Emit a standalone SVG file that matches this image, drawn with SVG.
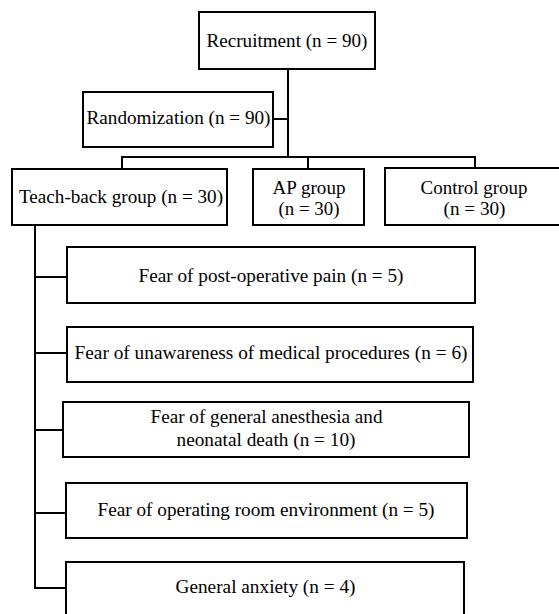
<svg xmlns="http://www.w3.org/2000/svg" width="559" height="614" viewBox="0 0 559 614">
<style>
rect{fill:#fff;stroke:#000;stroke-width:2}
.c line,.c path{stroke:#000;stroke-width:2;fill:none}
text{font-family:"Liberation Serif","Times New Roman",Tinos,"Noto Serif","DejaVu Serif",FreeSerif,serif;font-size:18px;fill:#000;text-anchor:middle}
</style>
<rect x="0" y="0" width="559" height="614" style="stroke:none"/>
<g class="c">
<line x1="288" y1="69" x2="288" y2="157"/>
<line x1="273" y1="119" x2="288" y2="119"/>
<path d="M122 169V157H475V168"/>
<line x1="308" y1="157" x2="308" y2="169"/>
<path d="M35 225V588H66"/>
<line x1="35" y1="277" x2="67" y2="277"/>
<line x1="35" y1="353" x2="67" y2="353"/>
<line x1="35" y1="430" x2="63" y2="430"/>
<line x1="35" y1="513" x2="66" y2="513"/>
</g>
<g id="recruitment"><rect x="199" y="12" width="176" height="57"/><text x="287" y="47" textLength="161" lengthAdjust="spacingAndGlyphs">Recruitment (n = 90)</text></g>
<g id="randomization"><rect x="83" y="92" width="190" height="55"/><text x="178.5" y="124" textLength="184" lengthAdjust="spacingAndGlyphs">Randomization (n = 90)</text></g>
<g id="teachback"><rect x="12" y="169" width="215" height="56"/><text x="121" y="203" textLength="204" lengthAdjust="spacingAndGlyphs">Teach-back group (n = 30)</text></g>
<g id="ap"><rect x="253" y="169" width="111" height="56"/><text x="309" y="194" textLength="73" lengthAdjust="spacingAndGlyphs">AP group</text><text x="309" y="215" textLength="61" lengthAdjust="spacingAndGlyphs">(n = 30)</text></g>
<g id="control"><rect x="385" y="168" width="182" height="57"/><text x="474" y="194" textLength="107" lengthAdjust="spacingAndGlyphs">Control group</text><text x="474.5" y="215" textLength="62" lengthAdjust="spacingAndGlyphs">(n = 30)</text></g>
<g id="postop"><rect x="67" y="247" width="408" height="56"/><text x="271" y="282" textLength="265" lengthAdjust="spacingAndGlyphs">Fear of post-operative pain (n = 5)</text></g>
<g id="unaware"><rect x="67" y="327" width="406" height="55"/><text x="271" y="359" textLength="393" lengthAdjust="spacingAndGlyphs">Fear of unawareness of medical procedures (n = 6)</text></g>
<g id="anesthesia"><rect x="63" y="402" width="406" height="55"/><text x="266.5" y="423" textLength="232" lengthAdjust="spacingAndGlyphs">Fear of general anesthesia and</text><text x="266" y="446" textLength="179" lengthAdjust="spacingAndGlyphs">neonatal death (n = 10)</text></g>
<g id="or"><rect x="66" y="483" width="401" height="55"/><text x="266" y="516" textLength="337" lengthAdjust="spacingAndGlyphs">Fear of operating room environment (n = 5)</text></g>
<g id="anxiety"><rect x="66" y="562" width="398" height="60"/><text x="265.5" y="593" textLength="180" lengthAdjust="spacingAndGlyphs">General anxiety (n = 4)</text></g>
</svg>
